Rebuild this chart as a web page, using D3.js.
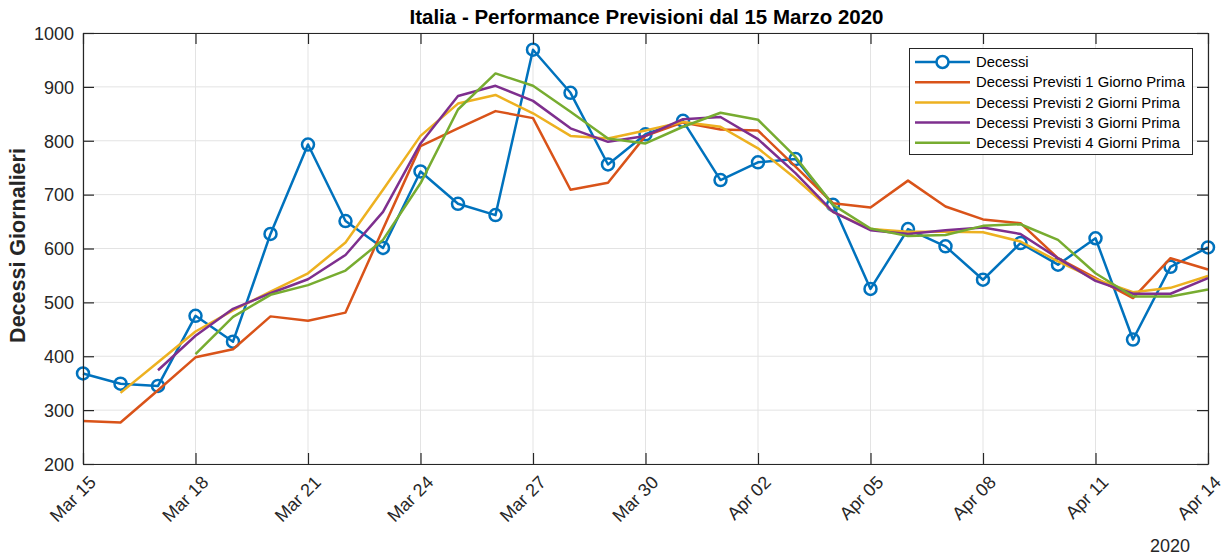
<!DOCTYPE html>
<html>
<head>
<meta charset="utf-8">
<script src="https://cdn.jsdelivr.net/npm/d3@7"></script>
<style>
  body { margin: 0; background: #fff; }
  svg { font-family: "Liberation Sans", Arial, Helvetica, sans-serif; }
</style>
</head>
<body>
<svg id="chart" width="1226" height="556"></svg>
<script>
// --- data ---
const days = [
  "2020-03-15","2020-03-16","2020-03-17","2020-03-18","2020-03-19","2020-03-20","2020-03-21",
  "2020-03-22","2020-03-23","2020-03-24","2020-03-25","2020-03-26","2020-03-27","2020-03-28",
  "2020-03-29","2020-03-30","2020-03-31","2020-04-01","2020-04-02","2020-04-03","2020-04-04",
  "2020-04-05","2020-04-06","2020-04-07","2020-04-08","2020-04-09","2020-04-10","2020-04-11",
  "2020-04-12","2020-04-13","2020-04-14"
];

const decessi = [368, 349, 345, 475, 427, 627, 793, 651, 601, 743, 683, 662, 969, 889, 756, 812,
  837, 727, 760, 766, 681, 525, 636, 604, 542, 610, 570, 619, 431, 566, 602];

const previsti1 = [280, 277, 337, 398, 413, 474, 466, 481, 636, 790, 823, 855, 842, 709, 722, 809,
  834, 821, 819, 752, 684, 676, 726, 678, 654, 647, 582, 545, 508, 582, 561];

const previsti2 = [null, 332, 389, 446, 485, 520, 554, 611, 709, 809, 869, 885, 851, 809, 804, 819,
  835, 826, 786, 730, 668, 636, 631, 631, 630, 613, 576, 543, 519, 527, 549];

const previsti3 = [null, null, 374, 438, 488, 517, 543, 588, 668, 795, 883, 902, 874, 823, 798, 809,
  840, 844, 803, 740, 668, 634, 627, 634, 639, 627, 582, 540, 516, 516, 545];

const previsti4 = [null, null, null, 404, 473, 514, 532, 559, 616, 721, 858, 925, 902, 854, 804, 795,
  826, 852, 839, 770, 681, 637, 623, 625, 642, 645, 616, 554, 511, 511, 524];

const seriesNames = [
  "Decessi",
  "Decessi Previsti 1 Giorno Prima",
  "Decessi Previsti 2 Giorni Prima",
  "Decessi Previsti 3 Giorni Prima",
  "Decessi Previsti 4 Giorni Prima"
];
const seriesColors = ["#0072BD", "#D95319", "#EDB120", "#7E2F8E", "#77AC30"];
const yTicks = [200, 300, 400, 500, 600, 700, 800, 900, 1000];

// --- setup ---
const parse = d3.timeParse("%Y-%m-%d");
const dates = days.map(parse);
const allSeries = [decessi, previsti1, previsti2, previsti3, previsti4];

const svg = d3.select("#chart");
const mLeft = 83, mRight = 1208, mTop = 33, mBottom = 464;
const axisColor = "#262626";

const x = d3.scaleTime().domain([dates[0], dates[dates.length - 1]]).range([mLeft, mRight]);
const y = d3.scaleLinear().domain([200, 1000]).range([mBottom, mTop]);
const xTicks = dates.filter((d, i) => i % 3 === 0);

// grid
svg.append("g").selectAll("line")
  .data(xTicks).join("line")
  .attr("x1", d => x(d)).attr("x2", d => x(d))
  .attr("y1", mTop).attr("y2", mBottom)
  .attr("stroke", "#e3e3e3").attr("stroke-width", 1);
svg.append("g").selectAll("line")
  .data(yTicks).join("line")
  .attr("x1", mLeft).attr("x2", mRight)
  .attr("y1", d => y(d)).attr("y2", d => y(d))
  .attr("stroke", "#e3e3e3").attr("stroke-width", 1);

// lines
const line = d3.line()
  .defined(d => d.v != null)
  .x(d => x(d.t))
  .y(d => y(d.v));

allSeries.forEach((vals, k) => {
  const pts = vals.map((v, i) => ({ t: dates[i], v }));
  svg.append("path")
    .datum(pts)
    .attr("d", line)
    .attr("fill", "none")
    .attr("stroke", seriesColors[k])
    .attr("stroke-width", 2.5)
    .attr("stroke-linejoin", "round");
  if (k === 0) {
    svg.append("g").selectAll("circle")
      .data(pts).join("circle")
      .attr("cx", d => x(d.t)).attr("cy", d => y(d.v))
      .attr("r", 6)
      .attr("fill", "none")
      .attr("stroke", seriesColors[0])
      .attr("stroke-width", 2.5);
  }
});

// axes (box with inward ticks)
const fmt = d3.timeFormat("%b %d");
const xAxis = svg.append("g").attr("transform", `translate(0,${mBottom})`)
  .call(d3.axisBottom(x).tickValues(xTicks).tickSizeInner(-11).tickSizeOuter(0).tickFormat(fmt));
const xTopAxis = svg.append("g").attr("transform", `translate(0,${mTop})`)
  .call(d3.axisTop(x).tickValues(xTicks).tickSizeInner(-11).tickSizeOuter(0).tickFormat(""));
const yAxis = svg.append("g").attr("transform", `translate(${mLeft},0)`)
  .call(d3.axisLeft(y).tickValues(yTicks).tickSizeInner(-11).tickSizeOuter(0).tickFormat(d3.format("d")));
const yRightAxis = svg.append("g").attr("transform", `translate(${mRight},0)`)
  .call(d3.axisRight(y).tickValues(yTicks).tickSizeInner(-11).tickSizeOuter(0).tickFormat(""));

[xAxis, xTopAxis, yAxis, yRightAxis].forEach(g => {
  g.select(".domain").attr("stroke", axisColor).attr("stroke-width", 1.2);
  g.selectAll(".tick line").attr("stroke", axisColor).attr("stroke-width", 1.2);
  g.selectAll("text").attr("fill", axisColor).style("font-size", "18px")
    .style("font-family", "'Liberation Sans', Arial, sans-serif");
});

yAxis.selectAll("text").attr("x", -9).attr("dy", "0.35em");

xAxis.selectAll("text")
  .attr("text-anchor", "end")
  .attr("transform", "translate(9,15) rotate(-45)")
  .attr("x", 0).attr("y", 0).attr("dy", "0.35em");

// labels
svg.append("text")
  .attr("x", (mLeft + mRight) / 2 + 1).attr("y", 24)
  .attr("text-anchor", "middle")
  .attr("font-weight", "bold").attr("font-size", 20.5)
  .attr("fill", "#000")
  .text("Italia - Performance Previsioni dal 15 Marzo 2020");

svg.append("text")
  .attr("transform", `translate(24.5,${(mTop + mBottom) / 2 - 3}) rotate(-90)`)
  .attr("text-anchor", "middle")
  .attr("font-weight", "bold").attr("font-size", 21.5)
  .attr("fill", axisColor)
  .text("Decessi Giornalieri");

svg.append("text")
  .attr("x", 1190).attr("y", 552)
  .attr("text-anchor", "end")
  .attr("font-size", 18)
  .attr("fill", axisColor)
  .text("2020");

// legend
const lg = svg.append("g");
lg.append("rect")
  .attr("x", 909.5).attr("y", 48.5).attr("width", 283).attr("height", 106)
  .attr("fill", "#fff").attr("stroke", axisColor).attr("stroke-width", 1);
seriesNames.forEach((name, k) => {
  const ly = 62 + k * 20.2;
  lg.append("line")
    .attr("x1", 915).attr("x2", 970).attr("y1", ly).attr("y2", ly)
    .attr("stroke", seriesColors[k]).attr("stroke-width", 2.5);
  if (k === 0) {
    lg.append("circle").attr("cx", 942.5).attr("cy", ly).attr("r", 6)
      .attr("fill", "#fff").attr("stroke", seriesColors[0]).attr("stroke-width", 2.5);
  }
  lg.append("text")
    .attr("x", 976).attr("y", ly).attr("dy", "0.35em")
    .attr("font-size", 14.8).attr("fill", "#000")
    .text(name);
});
</script>
</body>
</html>
